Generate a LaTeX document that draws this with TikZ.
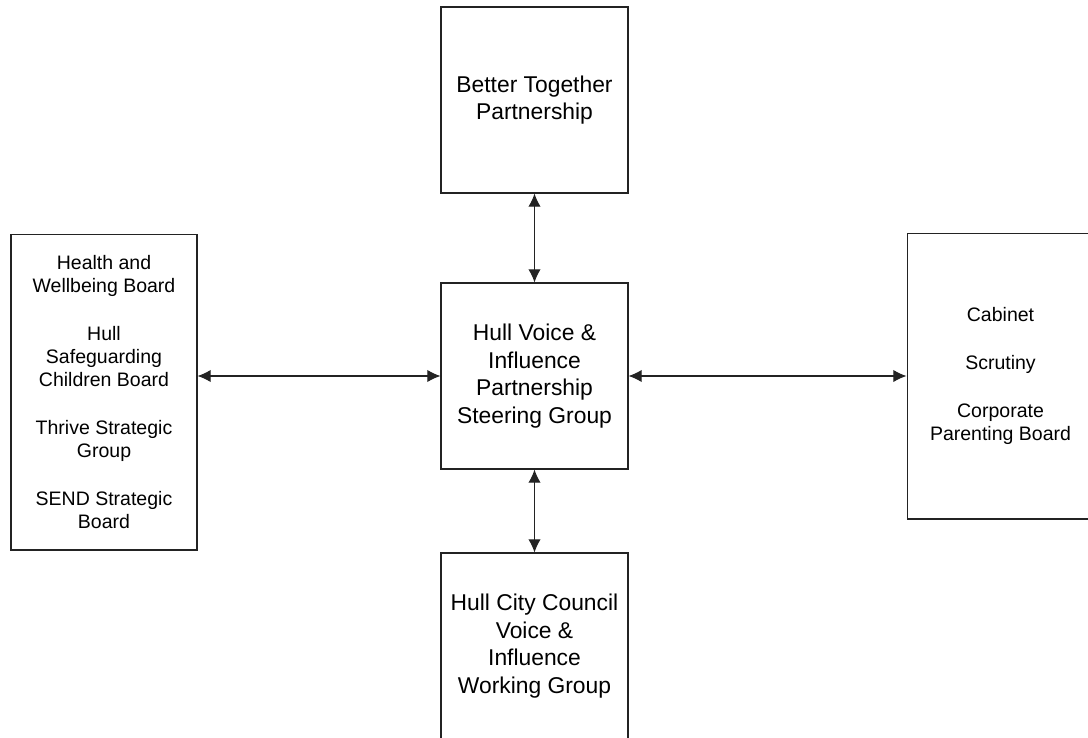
\documentclass[tikz,border=0pt]{standalone}
\usepackage{fontspec}
\setmainfont{Liberation Sans}
\usetikzlibrary{arrows.meta}
\definecolor{boxgray}{RGB}{35, 35, 35}

\begin{document}
\begin{tikzpicture}[x=0.02cm, y=-0.02cm, >={Latex[length=7.5pt, width=7pt]},
    board/.style={draw=boxgray, line width=0.6pt, inner sep=0pt, align=center,
        font=\fontsize{11.1}{13}\selectfont},
    group/.style={board, minimum width=3.74cm, minimum height=3.72cm,
        font=\fontsize{13}{15.6}\selectfont}]
    \useasboundingbox (0,0) rectangle (1088,737);
    % groups in the middle column
    \node[group] (steer) at (534.5,376) {Hull Voice \&\\Influence\\Partnership\\Steering Group};
    \node[group] (btp) at (534.5,100) {Better Together\\Partnership};
    \node[group] (hcc) at (534.5,646) {Hull City Council\\Voice \&\\Influence\\Working Group};
    % boards either side
    \node[board, minimum width=3.72cm, minimum height=6.32cm] (boards) at (104,392)
        {Health and\\Wellbeing Board\\[14.5pt]Hull\\Safeguarding\\Children Board\\[14.5pt]Thrive Strategic\\Group\\[14.5pt]SEND Strategic\\Board};
    \node[board, minimum width=3.74cm, minimum height=5.72cm] (council) at (1000.5,376)
        {Cabinet\\[14.5pt]Scrutiny\\[14.5pt]Corporate\\Parenting Board};
    \draw[<->, boxgray, line width=0.6pt] (btp) -- (steer);
    \draw[<->, boxgray, line width=0.6pt] (steer) -- (hcc);
    \draw[<->, boxgray, line width=0.6pt] (boards.east |- steer.west) -- (steer.west);
    \draw[<->, boxgray, line width=0.6pt] (steer) -- (council);
\end{tikzpicture}
\end{document}
